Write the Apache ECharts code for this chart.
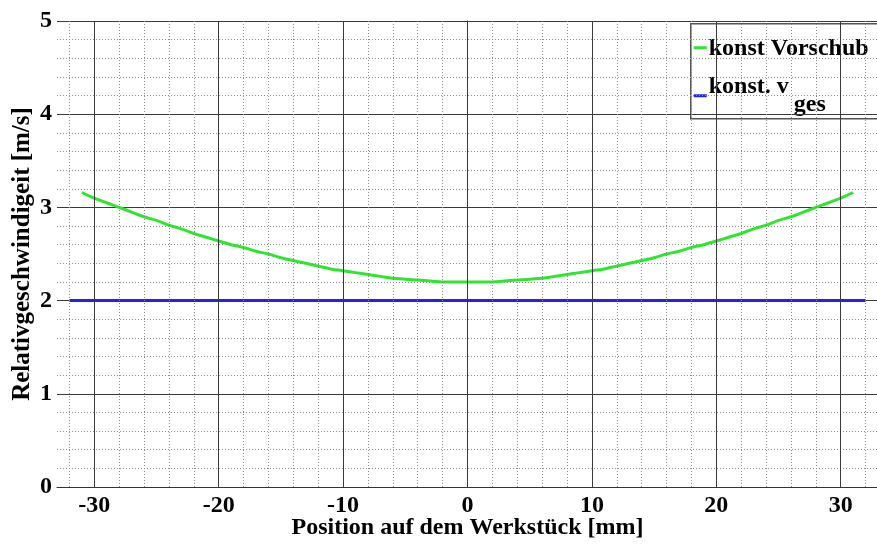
<!DOCTYPE html>
<html>
<head>
<meta charset="utf-8">
<script src="https://cdn.jsdelivr.net/npm/echarts@6/dist/echarts.min.js"></script>
<style>
  html, body { margin: 0; padding: 0; background: #fff; }
  #chart { width: 877px; height: 546px; }
</style>
</head>
<body>
<div id="chart"></div>
<script>
// Position along the workpiece [mm]
const positions = [-31, -30, -29, -28, -27, -26, -25, -24, -23, -22, -21, -20, -19, -18, -17, -16,
  -15, -14, -13, -12, -11, -10, -9, -8, -7, -6, -5, -4, -3, -2, -1, 0,
  1, 2, 3, 4, 5, 6, 7, 8, 9, 10, 11, 12, 13, 14, 15, 16,
  17, 18, 19, 20, 21, 22, 23, 24, 25, 26, 27, 28, 29, 30, 31];

// Relative speed with constant feed [m/s]
const konstVorschub = [3.16, 3.10, 3.05, 3.00, 2.95, 2.90, 2.86, 2.81, 2.77, 2.72, 2.68, 2.64, 2.60, 2.57, 2.53, 2.50,
  2.46, 2.43, 2.40, 2.37, 2.34, 2.32, 2.30, 2.28, 2.26, 2.24, 2.23, 2.22, 2.21, 2.20, 2.20, 2.20,
  2.20, 2.20, 2.21, 2.22, 2.23, 2.24, 2.26, 2.28, 2.30, 2.32, 2.34, 2.37, 2.40, 2.43, 2.46, 2.50,
  2.53, 2.57, 2.60, 2.64, 2.68, 2.72, 2.77, 2.81, 2.86, 2.90, 2.95, 3.00, 3.05, 3.10, 3.16];

// Relative speed with constant v_ges [m/s]
const vgesPositions = [-32, 32];
const konstVges = [2, 2];

// Axis ticks and grid positions
const xTickLabels = [-30, -20, -10, 0, 10, 20, 30];
const xMinorGrid = [-32, -28, -26, -24, -22, -18, -16, -14, -12, -8, -6, -4, -2,
  2, 4, 6, 8, 12, 14, 16, 18, 22, 24, 26, 28, 32];
const yTickLabels = [0, 1, 2, 3, 4, 5];

const FONT = 'Liberation Serif';
const MAJOR = '#3a3a3a';
const MINOR = '#8a8a8a';

const chart = echarts.init(document.getElementById('chart'), null, { renderer: 'canvas' });

const labelStyle = { fontFamily: FONT, fontWeight: 'bold', fontSize: 24, color: '#000' };
const nameStyle = { fontFamily: FONT, fontWeight: 'bold', fontSize: 24, color: '#000' };

// vertical grid lines drawn as mark lines at fixed positions on the x scale
const gridLines = xMinorGrid.map(v => ({ xAxis: v, lineStyle: { color: MINOR, width: 1, type: [1, 2] } }))
  .concat(xTickLabels.map(v => ({ xAxis: v, lineStyle: { color: MAJOR, width: 1, type: 'solid' } })));

chart.setOption({
  animation: false,
  backgroundColor: '#fff',
  grid: { left: 57, right: -1, top: 21, bottom: 59, show: false, outerBoundsMode: 'none', containLabel: false },
  xAxis: {
    type: 'value', min: -33, max: 33,
    axisLine: { show: true, lineStyle: { color: '#333', width: 1 } },
    axisTick: { show: false },
    axisLabel: Object.assign({ margin: 7, customValues: xTickLabels }, labelStyle),
    splitLine: { show: false },
    name: 'Position auf dem Werkstück [mm]',
    nameLocation: 'middle',
    nameGap: 29,
    nameMoveOverlap: false,
    nameTextStyle: nameStyle
  },
  yAxis: {
    type: 'value', min: 0, max: 5, interval: 1,
    axisLine: { show: true, lineStyle: { color: '#333', width: 1 } },
    axisTick: { show: false },
    axisLabel: Object.assign({
      margin: 5,
      formatter: v => (yTickLabels.indexOf(v) >= 0 ? String(v) : '')
    }, labelStyle),
    splitLine: { show: true, lineStyle: { color: MAJOR, width: 1 } },
    minorTick: { show: false, splitNumber: 5 },
    minorSplitLine: { show: true, lineStyle: { color: MINOR, width: 1, type: [1, 2] } },
    name: 'Relativgeschwindigeit [m/s]',
    nameLocation: 'middle',
    nameGap: 22,
    nameMoveOverlap: false,
    nameTextStyle: Object.assign({}, nameStyle, { fontSize: 25 })
  },
  series: [
    {
      name: 'grid', type: 'line', data: [], z: 1, silent: true,
      markLine: {
        silent: true, symbol: 'none', animation: false,
        label: { show: false }, emphasis: { disabled: true },
        data: gridLines
      }
    },
    {
      name: 'konst. v_ges', type: 'line',
      data: vgesPositions.map((x, i) => [x, konstVges[i]]),
      showSymbol: false, lineStyle: { color: '#2323e6', width: 3 }, z: 3
    },
    {
      name: 'konst Vorschub', type: 'line', smooth: true,
      data: positions.map((x, i) => [x, konstVorschub[i]]),
      showSymbol: false, lineStyle: { color: '#2fe52f', width: 3 }, z: 4
    }
  ],
  graphic: [
    {
      type: 'group', left: 690, top: 23, z: 100,
      children: [
        { type: 'rect', shape: { x: 0, y: 0, width: 200, height: 95 },
          style: { fill: '#fff', stroke: '#555', lineWidth: 1.5 } },
        { type: 'line', shape: { x1: 3, y1: 24, x2: 16, y2: 24 },
          style: { stroke: '#2fe52f', lineWidth: 3 } },
        { type: 'text', x: 18, y: 25,
          style: { text: 'konst Vorschub', fontFamily: FONT, fontWeight: 'bold', fontSize: 24,
                   fill: '#000', verticalAlign: 'middle' } },
        { type: 'line', shape: { x1: 3, y1: 72, x2: 16, y2: 72 },
          style: { stroke: '#2323e6', lineWidth: 3 } },
        { type: 'text', x: 18, y: 63,
          style: { text: 'konst. v', fontFamily: FONT, fontWeight: 'bold', fontSize: 24,
                   fill: '#000', verticalAlign: 'middle' } },
        { type: 'text', x: 103, y: 81,
          style: { text: 'ges', fontFamily: FONT, fontWeight: 'bold', fontSize: 24,
                   fill: '#000', verticalAlign: 'middle' } }
      ]
    }
  ]
});
</script>
</body>
</html>
